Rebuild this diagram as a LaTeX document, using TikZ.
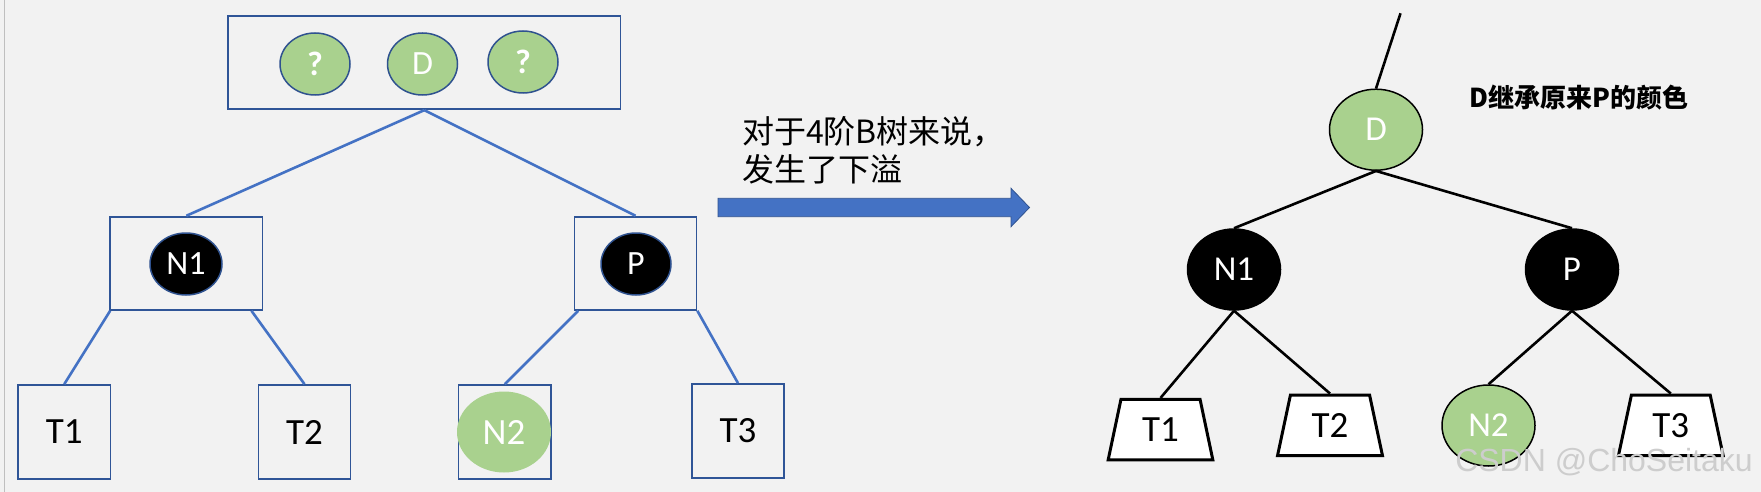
\documentclass[tikz,border=0pt]{standalone}
\usepackage{fontspec}
\setmainfont{Carlito}
\newfontfamily\cjk{Noto Sans CJK SC}
\newfontfamily\wmfont{Liberation Sans}
\usetikzlibrary{shapes.geometric}
\definecolor{bg}{HTML}{F2F2F2}
\definecolor{bline}{HTML}{4472C4}
\definecolor{bbox}{HTML}{2F5597}
\definecolor{gfill}{HTML}{A9D18E}
\definecolor{eborder}{HTML}{2F528F}
\definecolor{wm}{HTML}{CDCDCD}
\tikzset{
  lbox/.style={draw=bbox, line width=1.7pt, inner sep=0pt},
  lell/.style={ellipse, draw=eborder, line width=1.5pt, inner sep=0pt, text=white, font=\fontsize{34}{34}\selectfont},
  lline/.style={draw=bline, line width=2.6pt},
  rell/.style={ellipse, draw=black, line width=1.5pt, inner sep=0pt, minimum width=93pt, minimum height=81pt, text=white, font=\fontsize{35}{35}\selectfont},
  rline/.style={draw=black, line width=2.6pt},
  trap/.style={trapezium, trapezium stretches=true, trapezium left angle=76, trapezium right angle=76, draw=black, line width=3pt, fill=white, inner sep=0pt, minimum width=105pt, minimum height=60.5pt, font=\fontsize{37}{37}\selectfont},
  tlabel/.style={font=\fontsize{37}{37}\selectfont}
}
\begin{document}
\begin{tikzpicture}[x=1pt,y=-1pt]
\useasboundingbox (0,0) rectangle (1761,492);
\fill[bg] (0,0) rectangle (1761,492);
\draw[color=gray!50, line width=1.5pt] (4.5,0) -- (4.5,492);

% ---- left: B-tree ----
\node[lbox, minimum width=392.5pt, minimum height=93.6pt] (top) at (424.3,62.5) {};
\node[lell, fill=gfill, minimum width=70pt, minimum height=62pt, font=\fontsize{34}{34}\selectfont\bfseries] (q1) at (315,64) {?};
\node[lell, fill=gfill, minimum width=70pt, minimum height=62pt] (dl) at (422.5,64) {D};
\node[lell, fill=gfill, minimum width=70pt, minimum height=62pt, font=\fontsize{34}{34}\selectfont\bfseries] (q2) at (523,62) {?};

\node[lbox, minimum width=152.6pt, minimum height=93.3pt] (n1box) at (186.3,263.3) {};
\node[lell, fill=black, minimum width=72pt, minimum height=62pt] (n1l) at (186,264) {N1};
\node[lbox, minimum width=122pt, minimum height=93.3pt] (pbox) at (635.5,263.3) {};
\node[lell, fill=black, minimum width=70pt, minimum height=62pt] (pl) at (636,264) {P};

\node[lbox, minimum width=92.5pt, minimum height=94pt, tlabel] (t1l) at (64.25,432) {T1};
\node[lbox, minimum width=92pt, minimum height=94pt, tlabel] (t2l) at (304.5,432) {T2};
\node[lbox, minimum width=92.4pt, minimum height=94pt] (n2box) at (504.8,432) {};
\node[ellipse, fill=gfill, minimum width=94pt, minimum height=81pt, inner sep=0pt, text=white, tlabel] (n2l) at (504,432) {N2};
\node[lbox, minimum width=92pt, minimum height=94pt, tlabel] (t3l) at (738,431) {T3};

\draw[lline] (top.south) -- (n1box.north);
\draw[lline] (top.south) -- (pbox.north);
\draw[lline] ([xshift=1pt]n1box.south west) -- (t1l.north);
\draw[lline] ([xshift=-12pt]n1box.south east) -- (t2l.north);
\draw[lline] ([xshift=4.5pt]pbox.south west) -- (n2box.north);
\draw[lline] (pbox.south east) -- (t3l.north);

% ---- middle: arrow and text ----
\node[anchor=west, align=left, inner sep=0pt, font=\cjk\fontsize{32}{38}\selectfont] (note) at (742,150) {对于4阶B树来说，\\发生了下溢};
\fill[bline, draw=eborder, line width=0.8pt] (718,198.3) -- (1011,198.3) -- (1011,188.3) -- (1029.5,207.5) -- (1011,226.7) -- (1011,216.7) -- (718,216.7) -- cycle;

% ---- right: red-black tree ----
\coordinate (up) at (1400.5,13.3);
\node[rell, fill=gfill] (dr) at (1376,129.7) {D};
\node[rell, fill=black] (n1r) at (1234,269.5) {N1};
\node[rell, fill=black] (pr) at (1572,269.5) {P};
\node[rell, fill=gfill] (n2r) at (1488.5,425.5) {N2};
\node[trap] (t1r) at (1160.5,429.7) {T1};
\node[trap] (t2r) at (1330,425.3) {T2};
\node[trap] (t3r) at (1670.8,425.3) {T3};

\draw[rline] (up) -- (dr.north);
\draw[rline] (dr.south) -- (n1r.north);
\draw[rline] (dr.south) -- (pr.north);
\draw[rline] (n1r.south) -- (t1r.north);
\draw[rline] (n1r.south) -- (t2r.north);
\draw[rline] (pr.south) -- (n2r.north);
\draw[rline] (pr.south) -- (t3r.north);

\node[anchor=west, inner sep=0pt, font=\cjk\bfseries\fontsize{26}{26}\selectfont] (title) at (1469.6,98) {D继承原来P的颜色};

\node[text=wm, inner sep=0pt, font=\wmfont\fontsize{32}{32}\selectfont] (wmk) at (1604,461.7) {CSDN @ChoSeitaku};
\end{tikzpicture}
\end{document}
